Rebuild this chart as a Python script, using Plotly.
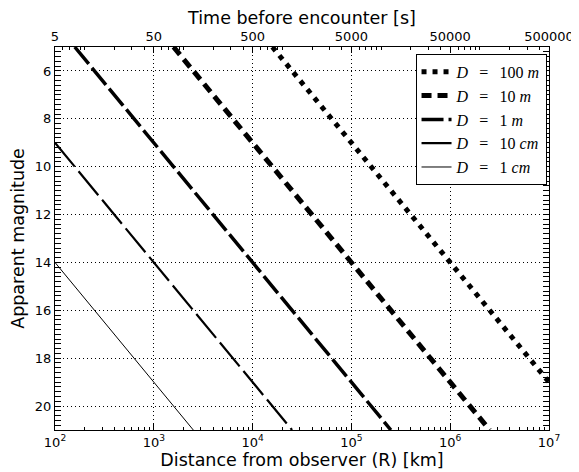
import plotly.graph_objects as go

# Visible endpoints of each line
labels = ["<i>D</i> = 100 <i>m</i>", "<i>D</i> = 10 <i>m</i>", "<i>D</i> = 1 <i>m</i>",
          "<i>D</i> = 10 <i>cm</i>", "<i>D</i> = 1 <i>cm</i>"]
dist_100m = [15850, 1e7]
mag_100m = [5, 19]
dist_10m = [1585, 2.51e6]
mag_10m = [5, 21]
dist_1m = [158.5, 2.51e5]
mag_1m = [5, 21]
dist_10cm = [100, 2.51e4]
mag_10cm = [9, 21]
dist_1cm = [100, 2512]
mag_1cm = [14, 21]

x_ticks = [1e2, 1e3, 1e4, 1e5, 1e6, 1e7]
x_ticktext = ["10<sup>2</sup>", "10<sup>3</sup>", "10<sup>4</sup>", "10<sup>5</sup>",
              "10<sup>6</sup>", "10<sup>7</sup>"]
time_ticks = [5, 50, 500, 5000, 50000, 500000]
time_ticktext = ["5", "50", "500", "5000", "50000", "500000"]
y_ticks = [6, 8, 10, 12, 14, 16, 18, 20]

series = [
    (dist_100m, mag_100m, 5, "5px,6px"),
    (dist_10m, mag_10m, 5, "10px,6px"),
    (dist_1m, mag_1m, 3.5, "22px,5px"),
    (dist_10cm, mag_10cm, 2.2, "31px,6px"),
    (dist_1cm, mag_1cm, 1, "solid"),
]

fig = go.Figure()
for (xs, ys, w, dash), name in zip(series, labels):
    fig.add_trace(go.Scatter(x=xs, y=ys, mode="lines",
                             name=name.replace(" = ", "\u2002\u2009=\u2002\u2009"),
                             line=dict(color="black", width=w, dash=dash)))

# dummy trace for top axis
fig.add_trace(go.Scatter(x=[time_ticks[0], time_ticks[-1]], y=[5, 5], xaxis="x2",
                         mode="lines", line=dict(width=0), showlegend=False,
                         hoverinfo="skip"))

font = dict(family="DejaVu Sans", size=13, color="black")
# page body has an 8px default margin, so the figure is sized/offset to compensate
fig.update_layout(
    width=571, height=464,
    margin=dict(l=47, r=30, t=39, b=42),
    paper_bgcolor="white", plot_bgcolor="white",
    font=font,
    showlegend=True,
    legend=dict(x=0.995, y=0.982, xanchor="right", yanchor="top",
                bordercolor="black", borderwidth=1, bgcolor="white",
                font=dict(family="Liberation Serif", size=16, color="black"),
                tracegroupgap=0, itemwidth=30),
    xaxis=dict(type="log", range=[2, 7], tickvals=x_ticks, ticktext=x_ticktext,
               automargin=False,
               showline=True, linecolor="black", linewidth=1,
               ticks="inside", ticklen=6, tickcolor="black",
               minor=dict(ticks="inside", ticklen=3, dtick="D1", tickcolor="black", showgrid=False),
               showgrid=True, gridcolor="black", gridwidth=1, griddash="1px,3px",
               zeroline=False,
               title=dict(text="Distance from observer (R) [km]", font=dict(size=17.5), standoff=3)),
    xaxis2=dict(type="log", range=[0.69897, 5.69897], overlaying="x", side="top",
                tickvals=time_ticks, ticktext=time_ticktext, automargin=False,
                showline=True, linecolor="black", linewidth=1,
                ticks="inside", ticklen=6, tickcolor="black", ticklabelstandoff=0,
                minor=dict(ticks="inside", ticklen=3, dtick="D1", tickcolor="black", showgrid=False),
                showgrid=False, zeroline=False,
                title=dict(text="Time before encounter [s]", font=dict(size=17.5), standoff=6)),
    yaxis=dict(range=[21, 5], tickvals=y_ticks, automargin=False,
               showline=True, linecolor="black", linewidth=1, mirror="allticks",
               ticks="inside", ticklen=6, tickcolor="black",
               minor=dict(ticks="inside", ticklen=3, dtick=0.2, tick0=0, tickcolor="black", showgrid=False),
               showgrid=True, gridcolor="black", gridwidth=1, griddash="1px,3px",
               zeroline=False,
               title=dict(text="Apparent magnitude", font=dict(size=17.5), standoff=8)),
)

fig.write_html("out.html")
